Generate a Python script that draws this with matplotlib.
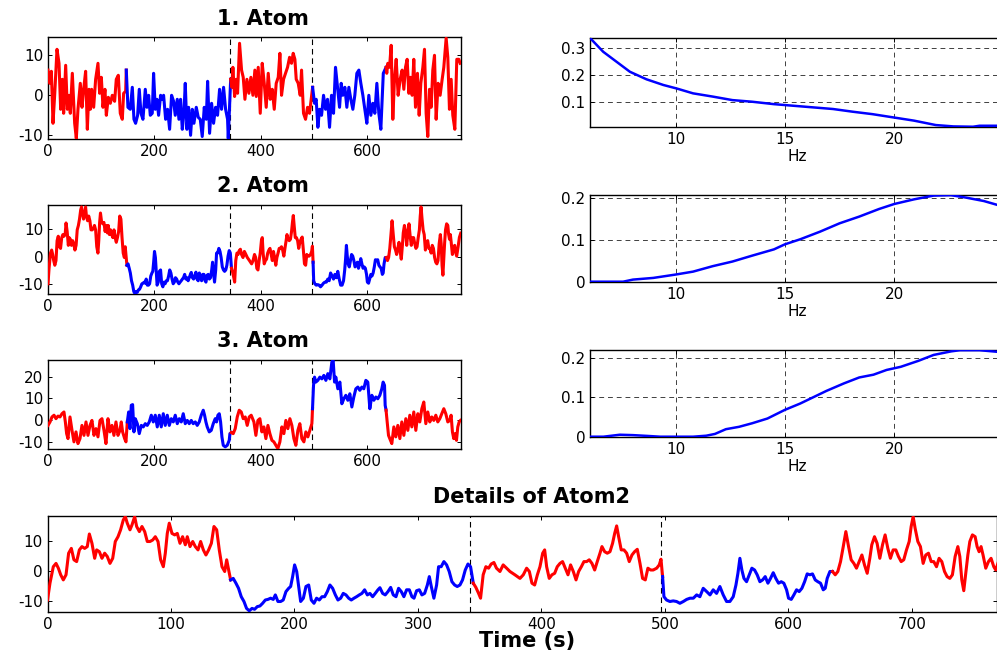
import numpy as np
import matplotlib
matplotlib.use("Agg")
import matplotlib.pyplot as plt
from matplotlib.ticker import FormatStrFormatter

# ---------------- data ----------------
# Atom 1 time course (s, amplitude)
atom1_t = [0, 3.1, 6.3, 9.4, 12.5, 16.9, 20.7, 23.8, 26.9, 29.4, 33.2, 36.3, 39.4, 41.9, 45.7,
           50.1, 53.2, 56.3, 60.7, 63.9, 67, 70.7, 73.9, 77, 79.5, 82, 85.8, 89.5, 93.9, 97,
           100.2, 103.3, 107, 109.6, 113.3, 117.1, 120.8, 125.2, 128.3, 132.1, 135.8, 139.6,
           142.1, 145.9,
           147.1, 150.2, 154.6, 158.4, 161.5, 164.6, 168.4, 171.5, 174.7, 178.4, 182.8, 185.9,
           189.1, 192.2, 195.9, 198.4, 201.6, 204.7, 207.8, 211.6, 214.7, 217.2, 221, 224.7,
           228.5, 232.2, 236, 239.1, 242.9, 246, 249.1, 252.3, 255.4, 257.9, 261, 264.2, 267.9,
           271.1, 274.2, 278.6, 282.3, 286.1, 289.8, 293.6, 297.4, 299.9, 303.6, 307.4, 311.1,
           314.9, 318.6, 322.4, 326.1, 329.9, 333.7, 337.4, 338.7,
           343.2, 345.5, 347.4, 350.6, 353.7, 356.2, 359.9, 363.7, 366.8, 370, 373.7, 377.5,
           381.2, 385, 388.7, 391.3, 395, 398.8, 402.5, 406.3, 410, 413.8, 417.5, 421.3, 425.1,
           428.8, 432.6, 435.7, 438.8, 442.6, 446.3, 450.1, 453.9, 457.6, 460.7, 463.9, 466.4,
           470.1, 473.9, 476.4, 480.1, 483.9, 487.7, 491.4,
           497.2, 499, 500.8, 503.9, 507.1, 510.2, 514, 517.7, 521.5, 525.2, 529, 532.7, 536.5,
           540.2, 544, 547.8, 550.9, 554, 557.8, 561.5, 565.3, 569, 572.8, 576.5, 580.3, 584.1,
           587.8, 591.6, 595.3, 599.1, 602.8, 606.6, 610.4, 614.1, 617.9, 621.6, 625.4, 630,
           635.2, 636.5, 638.5, 641.7, 644.8, 647.9, 651, 654.2, 657.9, 661.7, 665.4, 668.6,
           671.7, 674.8, 678, 681.1, 684.2, 687.3, 690.5, 694.2, 697.4, 700.5, 704.3, 707.4,
           710.5, 713.6, 716.8, 719.9, 723, 726.2, 729.3, 733, 736.8, 740.6, 743.7, 748.1,
           751.2, 754.3, 757.5, 760.6, 764.4, 768.1, 771.9, 774.5]
atom1_v = [6.3, 3, 6, -7, 0, 11.5, 8, -3.5, 4, -4.5, 7.5, -3.5, 0, -4.5, 5.5,
           -7, -10.8, -3.5, 3, -3, 1.5, 6, -8.5, 1.5, -3.5, 1.5, -3, 4, 8, 0.5,
           4.5, -3, 1.5, -5, -0.5, -2, 0, -1.5, 4, 5, -4.5, -6,
           0.5, 1,
           6.3, -3, -3.5, 2, -6, -7, -5, 1.5, -4.5, -6, 1.5, -3,
           0, -5, -4.5, 5.5, -3.5, -1, -5, 0, -1, 0, -6, -3.5,
           -8.5, 0, -1.5, -5, -1, -6, -1, -8.5, -4.5, 3, -8.5, -3, -10,
           -3.5, -7, -3, -5.5, -6, -10.3, -3, -6, 3.5, -9.5, -2, -7,
           -3, -5, 1.5, -3.5, 2, -3.5, -6, -10.8,
           4, 2, 7, -0.3, 4, 0.5, 13, 6.3, 4.5, -1, 4, 0.5,
           4.5, 0, 6.3, -0.3, 7, -4.5, 8, 3, -3, 5.5, -1, 1.5, -3.5,
           3, 4.5, 10.5, 0, 4, 5.5, 7, 9.5, 8, 10.5, 9, 4,
           3, 0, 6.3, -4.5, -6, -3, -4.5,
           2, 0, -2, -1, -8, -3.5, -5, 0, -3.5, -1, -8, 0, -4.5,
           7, 2, -3, 3, 0, 2, -3, 2, -1, -3.5, 0, 5.5, 6.3,
           3, 0, -3.5, -7, 0, -5, -2, -4.5, 3, -4.5, -8.5, 5.5,
           7, 5.5, 8, 7, 12.5, -6, 4, 9, 0, 4, 6.3, 1.5,
           7, 9, 0.5, 4.5, 0, 9, -3, 5.5, -5, 3, 7, 11.5,
           -4.5, -10.3, 1.5, -3, 6.3, 10, -6, 3, 0, 4, 7, 14.3,
           9.5, -3.5, 4, -5, -8.5, 9, 9, 8]

# Atom 2 time course (s, amplitude)
atom2_t = [0, 2, 4.7, 6.9, 8.8, 10.7, 12.8, 15, 17.1, 19.3, 21.4, 23.6, 25.8, 27.9, 30.1, 32.2,
           33.9, 36, 38.2, 39.8, 42, 44.1, 46.3, 48.4, 50.6, 52.8, 54.9, 57.1, 59.2, 61.4, 63,
           64.6, 66.8, 68.4, 70.6, 72.2, 74.4, 76.5, 78.7, 80.8, 83, 85.2, 87.3, 89.5, 91.6,
           93.8, 95.4, 97, 98.6, 100.8, 103, 105.1, 107.3, 109.4, 111.6, 113.2, 115.4, 117.6,
           119.7, 121.9, 124, 126.2, 128.3, 130.5, 132.7, 134.8, 137, 139.1, 141.3, 143.5,
           145.1, 146.7,
           148.3, 150.4, 152.6, 154.7, 156.9, 159.1, 161.2, 163.4, 165.6, 167.7, 169.9, 172,
           174.2, 176.4, 178.5, 180.7, 182.8, 184.5, 186.6, 188.8, 190.9, 193.1, 195.3, 196.9,
           198.5, 200.1, 201.8, 203.4, 205, 207.2, 209.3, 211.5, 213.6, 215.8, 217.9, 220.1,
           222.3, 224.4, 226.6, 228.7, 230.9, 233.1, 235.2, 237.4, 239.5, 241.7, 243.9, 246,
           248.2, 250.3, 252.5, 254.6, 256.8, 259, 261.1, 263.3, 265.4, 267.6, 269.2, 271.4,
           273.5, 275.7, 277.9, 280, 282.2, 284.3, 286.5, 288.6, 290.8, 293, 295.1, 296.8,
           298.9, 301.1, 303.2, 305.4, 307.6, 309.2, 310.8, 312.9, 315.1, 316.7, 318.8, 321,
           323.2, 325.3, 327.5, 329.7, 331.8, 334, 336.1, 338.3, 340.5, 342.6,
           344.8, 346.9, 349.1, 350.7, 352.8, 355, 357.2, 359.3, 361.5, 363.6, 366.4, 369,
           371.8, 374.5, 378.5, 382.6, 385.3, 388, 390.2, 392.3, 394.5, 396.7, 398.8, 401,
           402.6, 404.2, 406.3, 408.5, 410.7, 412.8, 415, 417.1, 419.3, 421.5, 423.6, 425.8,
           428, 430.1, 432.3, 434.4, 436.6, 438.7, 440.9, 443.1, 445.2, 447.4, 449, 451.2,
           453.3, 455.5, 457.6, 459.3, 460.9, 462.5, 464.6, 466.8, 469, 471.1, 473.3, 475.4,
           477.6, 479.8, 481.9, 484.1, 486.2, 488.4, 490.5, 493.3, 495.4, 496.8,
           498.1, 499.2, 501.3, 504, 506.7, 509.4, 512.1, 514.9, 517.6, 520.3, 523, 525.7,
           528.3, 531, 533.8, 536.5, 539.1, 541.8, 544.5, 547.2, 549.9, 552.6, 555.3, 557.5,
           559.1, 560.7, 562.3, 564, 566.1, 568.3, 570.4, 572.6, 574.7, 576.9, 579.1, 581.2,
           583.4, 585.5, 587.7, 589.8, 592, 594.2, 596.3, 598.5, 600.1, 602.3, 604.4, 606.6,
           608.7, 610.9, 613.1, 615.2, 617.4, 619.5, 621.7, 623.8, 626, 628.2, 629.8, 631.4,
           633.6,
           635.7, 637.9, 640, 642.2, 644.4, 646.5, 648.7, 650.8, 653, 655.1, 657.3, 659.5,
           661.6, 663.8, 665.9, 667.5, 669.7, 671.8, 674, 676.2, 678.3, 680.5, 682.6, 684.8,
           687, 689.1, 691.3, 693.4, 695.6, 697.8, 699.4, 701, 702.6, 704.8, 706.9, 709.1,
           711.2, 713.4, 715.6, 717.7, 719.9, 722, 724.2, 726.4, 728.5, 730.7, 732.8, 735,
           737.2, 738.8, 740.4, 742, 743.6, 745.3, 746.9, 749, 751.2, 752.8, 754.4, 756,
           757.6, 759.8, 762, 764.1, 766.3, 767.9, 770.5, 773, 775.5]
atom2_v = [-9.8, -4.2, 1.3, 2.4, 0.8, -1.4, -3.1, -1.4, 5.8, 7.4, 3.6, 3, 6.9, 8, 7.4, 8,
           12.2, 9.1, 4.1, 6.9, 6.3, 4.1, 5.8, 4.7, 2.4, 4.1, 9.7, 11.3, 13.6, 16.9, 18,
           15.8, 13.6, 15.2, 18, 14.7, 13, 14.7, 13, 9.7, 9.7, 10.2, 11.3, 9.7, 3.6,
           1.3, 5.8, 12.4, 15.8, 12.4, 11.9, 12.4, 9.1, 11.3, 8.6, 11.3, 8, 9.7,
           8, 6.9, 9.7, 6.9, 5.2, 6.9, 9.1, 14.7, 13.6, 6.9, 1.3, -0.3,
           3.6, 0.2,
           -3.1, -2.6, -4.2, -5.9, -8.7, -10.3, -12.6, -13.4, -12.6, -12.9, -12, -11.8,
           -10.9, -9.8, -9.6, -9.2, -9.6, -8.1, -10.3, -10.3, -9.8, -7, -5.9, -5.3,
           -2, 1.9, -0.3, -5.3, -10.3, -9.2, -5.3, -4.8, -9.8, -10.9, -9.2, -9.8,
           -8.7, -8.7, -7, -4.8, -5.9, -8.1, -9.8, -9.2, -7.6, -8.1, -9.2, -9.8,
           -9.2, -8.7, -8.1, -7.6, -6.4, -8.1, -7.6, -8.7, -7.6, -6.4, -5.7, -7.6,
           -8.1, -7, -5.6, -8.1, -8.7, -5.9, -7, -8.7, -6.4, -6.4, -8.7, -9.2,
           -6.7, -6.4, -8.1, -7.6, -4.8, -2, -5.3, -9.2, -4.8, 1.3, 1.3, 3,
           1.9, -0.3, -3.7, -4.8, -5.3, -4.8, -3.1, 0.2, 2.2, 1.3,
           -4.2, -5.6, -7.6, -9.2, -1.4, 1.3, 0.8, 2.2, 2.7, 0.8, -0.3, 1.9,
           0.8, -0.3, -1.4, -2.6, -1.4, 0.8, -0.3, -4.2, -4.8, -1.4, 1.3, 5.8,
           6.9, 1.3, -2.6, -1.4, -0.9, 1.3, 2.4, 3, 0.8, -1.4, 1.9, -0.3,
           -3.1, -0.3, 1.3, 3, 3, 3.6, 2.4, 0.2, 3, 5.8, 8, 6.3,
           5.8, 6.3, 9.1, 12.4, 14.9, 11.3, 6.9, 6.9, 5.8, 3, 5.2, 6.3,
           7.1, 2.4, -2.6, -3.1, 0.8, 0.2, 0.2, 0.8, 1.9, 3.8,
           -2, -8.7, -9.8, -10.3, -10.1, -10.3, -10.9, -10.3, -9.6, -9.2, -9.2, -8.1,
           -8.7, -5.9, -7, -8.1, -6.4, -7.6, -5.3, -8.1, -10.3, -10.3, -8.7, -4.8,
           -0.9, 4.1, 0.2, -2.6, -3.7, -1.4, 0.8, 0.2, -1.4, -3.7, -3.1, -2,
           -4.2, -2.6, -0.7, -2.6, -4.2, -3.7, -4.2, -6.4, -9.2, -9.6, -8.1, -6.4,
           -7, -5.9, -3.7, -1.1, -1.4, -1.1, -3.1, -3.7, -4.2, -6.4, -5.9, -2.6,
           -0.3,
           -0.3, -1.4, -0.3, 3, 8, 13, 8, 3.6, 2.4, 0.8, 3, 5.2,
           1.9, -0.9, 4.1, 8.6, 11.3, 9.1, 4.1, 8.6, 11.9, 7.4, 4.1, 6.9,
           6.9, 4.7, 3, 3.6, 6.9, 9.7, 14.7, 18, 14.1, 9.7, 8, 2.4,
           5.2, 5.8, 3, 3, 1.3, 4.1, 3, -0.3, -2, -2.6, -1.4, 4.7,
           8, 4.7, -3.1, -6.7, -0.9, 5.2, 9.7, 11.9, 11.3, 8, 6.3, 8,
           5.2, 0.8, 3, 4.1, 1.3, 0.2, 3.5, 7, 8.5]

# Atom 3 time course (s, amplitude)
atom3_t = [0, 3.8, 7.5, 11.3, 15, 18.8, 22.5, 26.3, 30, 32.6, 35, 37.6, 41.3, 45.1, 48.8,
           52.6, 56.3, 60.1, 63.8, 67.6, 71.4, 75.1, 78.9, 82.6, 86.4, 90.1, 93.9, 97.7,
           101.4, 105.2, 108.9, 112.7, 116.4, 120.2, 123.9, 127.7, 131.5, 135.2, 137.7,
           140.2, 144, 146.5,
           149, 151.5, 154, 156.5, 159, 161.5, 164, 167.8, 171.5, 175.3, 179, 182.8, 186.5,
           190.3, 194.1, 197.8, 201.6, 205.3, 209.1, 212.8, 216.6, 220.3, 224.1, 227.9,
           231.6, 235.4, 239.1, 242.9, 246.6, 250.4, 254.1, 257.9, 261.7, 265.4, 269.2,
           272.9, 276.7, 280.4, 284.2, 287.9, 291.7, 294.2, 296.7, 299.2, 303, 306.7, 310.5,
           314.2, 316.7, 319.2, 321.8, 324.3, 326.8, 329.3, 333, 336.8, 340.5, 341.8,
           344.3, 348, 351.8, 355.6, 359.3, 363.1, 366.8, 370.6, 374.3, 378.1, 381.8, 386.9,
           390.6, 394.4, 398.1, 401.9, 405.6, 409.4, 413.2, 416.9, 420.7, 424.4, 428.2,
           431.9, 435.7, 439.4, 443.2, 446.9, 450.7, 454.5, 458.2, 462, 465.7, 469.5, 473.2,
           477, 480.8, 484.5, 488.3, 492, 495.8,
           497, 498.9, 500.8, 503.3, 507, 510.8, 514.6, 518.3, 522.1, 525.8, 529.6, 533.3,
           535.8, 538.4, 540.8, 544.6, 548.4, 552.1, 555.9, 559.6, 563.4, 567.1, 570.9,
           574.6, 578.4, 582.2, 585.9, 589.7, 593.4, 597.2, 600.9, 604.7, 608.5, 612.2, 616,
           619.7, 623.5, 627.2, 629.7, 632.3, 633.5,
           635.2, 637.3, 639.8, 643.5, 646, 649.8, 653.5, 657.3, 661.1, 664.8, 668.6, 672.3,
           676.1, 679.8, 683.6, 687.3, 691.1, 694.9, 698.6, 702.4, 706.1, 709.9, 713.6,
           717.4, 721.1, 724.9, 728.7, 732.4, 736.2, 739.9, 743.7, 747.4, 751.2, 754.9,
           757.4, 759.9, 762.4, 765, 767.5, 770, 772.5, 775]
atom3_v = [-2.5, -0.9, 1.4, 2.2, 0.6, 1.8, 1.4, 2.9, 3.7, -0.9, -6.3, -8.6, 1.4, -4.8, -10.1,
           -5.5, -10.9, -8.6, -2.5, -7.1, -0.9, -7.1, -2.5, -0.2, -7.1, -4, -7.8, -0.2,
           0.6, -4.8, -10.9, 0.6, -5.5, -2.5, -7.1, -0.9, -7.1, -4.8, -0.9,
           -5.5, -8.6, -10.1,
           -0.9, 3.7, -4, 6.8, 7.1, -5.5, 0.6, -1.7, -6.3, -2.5, -3.2, -1.7, -2.5,
           -0.9, 2.2, -0.9, 2.2, -3.2, 2.2, -3.2, 2.9, -2.5, 2.2, -2.5,
           0.6, -0.9, 2.2, -1.7, 0.6, -0.9, 2.9, -1.7, -0.2, -1.7, -0.2,
           -1.7, -0.9, -2.5, -0.9, 2.2, 4.5, 2.2, -0.9, -3.2, -5.5, -4.8, -1.7,
           0.6, -0.9, 2.2, 2.9, -0.9, -7.8, -11.7, -12.4, -11.7, -9.4, -6.3,
           -5.8, -6.3, -4, 1.4, 4.5, 3.7, 0.6, 1.4, -2.5, 1.4, 2.2, -0.9,
           -7.1, -0.2, 0.6, -5.5, -3.2, -8.6, -2.5, -6.3, -9.4, -10.1, -11.7,
           -13.2, -10.1, -3.2, -6.3, -0.2, -4, 0.6, -2.5, -8.6, -11.7, -4.8, -1.7,
           -8.6, -10.1, -5.5, -7.8, -4.8, -1.7,
           5.2, 16, 19.8, 17.5, 18.3, 19.8, 19, 20.6, 18.3, 21.4, 19, 26.7,
           27.5, 17.5, 19.8, 14.4, 17.5, 7.5, 9.8, 11.4, 9.1, 12.1, 6,
           10.6, 14.4, 15.2, 13.7, 15.2, 14.4, 18.3, 17.5, 5.2, 11.4, 9.1, 10.6,
           9.8, 11.4, 14.4, 17.5, 16, 6.8,
           4.5, -0.9, -7.1, -9.4, -10.9, -3.2, -7.8, -2.5, -8.6, -0.9, -7.1, 0.6,
           -4.8, 2.2, -3.2, 3.7, -4.8, 2.9, -0.9, 5.2, 8.3, -1.7, 3.7,
           -0.9, 1.4, -0.2, 2.2, -0.9, 0.6, 2.9, 5.2, 2.9, -0.9, -0.2,
           2.2, -5.5, -8.6, -6.3, -9.4, -3.2, -0.9, -0.2]

# Spectra of the three atoms (Hz, power)
spec1_f = [6.1, 6.69, 7.3, 7.91, 8.67, 9.44, 10.05, 10.8, 11.7, 12.6, 13.5, 14.5, 15.4, 16.3,
           17.2, 18.1, 19.0, 19.95, 20.9, 21.9, 22.7, 23.6, 23.9, 24.7]
spec1_p = [0.335, 0.285, 0.248, 0.211, 0.183, 0.162, 0.149, 0.131, 0.119, 0.106, 0.100, 0.091,
           0.085, 0.079, 0.073, 0.063, 0.054, 0.042, 0.030, 0.0136, 0.0086, 0.0074, 0.011,
           0.011]
spec2_f = [6.1, 7.6, 8.05, 8.98, 10.0, 10.8, 11.7, 12.6, 13.5, 14.5, 15.0, 15.7, 16.6, 17.5,
           18.4, 19.3, 20.0, 20.9, 21.8, 22.6, 23.3, 24.1, 24.7]
spec2_p = [0.0, 0.0, 0.005, 0.009, 0.017, 0.024, 0.037, 0.048, 0.062, 0.077, 0.089, 0.101,
           0.119, 0.139, 0.155, 0.173, 0.185, 0.196, 0.205, 0.206, 0.200, 0.192, 0.183]
spec3_f = [6.1, 6.7, 7.45, 8.05, 8.7, 9.3, 10.8, 11.4, 11.8, 12.3, 12.9, 13.5, 14.2, 15.0,
           15.7, 16.3, 16.9, 17.7, 18.4, 19.05, 19.65, 20.3, 21.1, 21.8, 22.6, 23.0, 23.9,
           24.7]
spec3_p = [0.0, 0.0, 0.005, 0.004, 0.002, 0.0, 0.0, 0.0025, 0.007, 0.019, 0.025, 0.034, 0.046,
           0.068, 0.084, 0.100, 0.116, 0.135, 0.150, 0.157, 0.169, 0.177, 0.192, 0.207, 0.216,
           0.219, 0.219, 0.215]

# state boundaries (s) and event markers (s)
segment_edges = [147, 343, 497, 635]
event_times = [342, 496.5]

# ---------------- style ----------------
plt.rcParams['font.family'] = ['DejaVu Sans']
plt.rcParams['axes.unicode_minus'] = False
plt.rcParams['xtick.direction'] = 'in'
plt.rcParams['ytick.direction'] = 'in'
plt.rcParams['xtick.top'] = True
plt.rcParams['ytick.right'] = True
plt.rcParams['xtick.major.size'] = 3
plt.rcParams['ytick.major.size'] = 3
plt.rcParams['xtick.major.width'] = 0.7
plt.rcParams['ytick.major.width'] = 0.7
plt.rcParams['axes.linewidth'] = 1.0
plt.rcParams['xtick.labelsize'] = 11
plt.rcParams['ytick.labelsize'] = 11

RED = '#ff0000'
BLUE = '#0000ff'
W, H = 997, 660
TITLE_SIZE = 15
TITLE_PAD = 9.1


def rect(x0, y0, x1, y1):
    return [x0 / W, 1 - y1 / H, (x1 - x0) / W, (y1 - y0) / H]


def draw_states(ax, t, v, lw):
    t = np.asarray(t, float)
    v = np.asarray(v, float)
    edges = [-np.inf] + segment_edges + [np.inf]
    for i in range(len(edges) - 1):
        idx = np.where((t >= edges[i]) & (t < edges[i + 1]))[0]
        if idx.size == 0:
            continue
        hi = min(idx[-1] + 1, len(t) - 1)
        ax.plot(t[idx[0]:hi + 1], v[idx[0]:hi + 1], color=RED if i % 2 == 0 else BLUE,
                lw=lw, solid_joinstyle='round', zorder=3)
    for e in event_times:
        ax.axvline(e, color='k', lw=0.8, ls=(0, (5, 3.5)), zorder=2)


fig = plt.figure(figsize=(W / 100, H / 100), dpi=100)

atoms = [(atom1_t, atom1_v, (-10.85, 14.5), [-10, 0, 10], '1. Atom'),
         (atom2_t, atom2_v, (-13.5, 18.7), [-10, 0, 10], '2. Atom'),
         (atom3_t, atom3_v, (-13.4, 27.7), [-10, 0, 10, 20], '3. Atom')]
left_rows = [(37.3, 138.7), (205, 294), (360, 449)]
for (t, v, yl, yt, title), (y0, y1) in zip(atoms, left_rows):
    ax = fig.add_axes(rect(48, y0, 461, y1))
    draw_states(ax, t, v, 2.2)
    ax.set_xlim(0, 776)
    ax.set_ylim(*yl)
    ax.set_xticks([0, 200, 400, 600])
    ax.set_yticks(yt)
    ax.set_title(title, fontsize=TITLE_SIZE, fontweight='bold', pad=TITLE_PAD, x=0.52)

spectra = [(spec1_f, spec1_p, (0.0075, 0.336), [0.1, 0.2, 0.3]),
           (spec2_f, spec2_p, (0.0, 0.2064), [0, 0.1, 0.2]),
           (spec3_f, spec3_p, (0.0, 0.2195), [0, 0.1, 0.2])]
right_rows = [(38, 126.7), (195, 281.7), (350, 436.7)]
for (f, p, yl, yt), (y0, y1) in zip(spectra, right_rows):
    ax = fig.add_axes(rect(590.3, y0, 1003.6, y1))
    ax.plot(f, p, color=BLUE, lw=1.8, zorder=3)
    ax.set_xlim(6.1, 25)
    ax.set_ylim(*yl)
    ax.set_xticks([10, 15, 20])
    ax.set_yticks(yt)
    ax.yaxis.set_major_formatter(FormatStrFormatter('%g'))
    ax.grid(True, color='0.25', lw=0.7, ls=(0, (5, 4)))
    ax.set_xlabel('Hz', fontsize=11, labelpad=2)

ax = fig.add_axes(rect(47.5, 515.7, 996.5, 611.7))
draw_states(ax, atom2_t, atom2_v, 2.2)
ax.set_xlim(0, 768.5)
ax.set_ylim(-13.7, 18.3)
ax.set_xticks([0, 100, 200, 300, 400, 500, 600, 700])
ax.set_yticks([-10, 0, 10])
ax.set_title('Details of Atom2', fontsize=TITLE_SIZE, fontweight='bold', pad=TITLE_PAD,
             x=0.51)
ax.set_xlabel('Time (s)', fontsize=TITLE_SIZE, fontweight='bold', labelpad=1)
ax.xaxis.set_label_coords(0.505, -0.2)

fig.savefig('out.png', dpi=100)
